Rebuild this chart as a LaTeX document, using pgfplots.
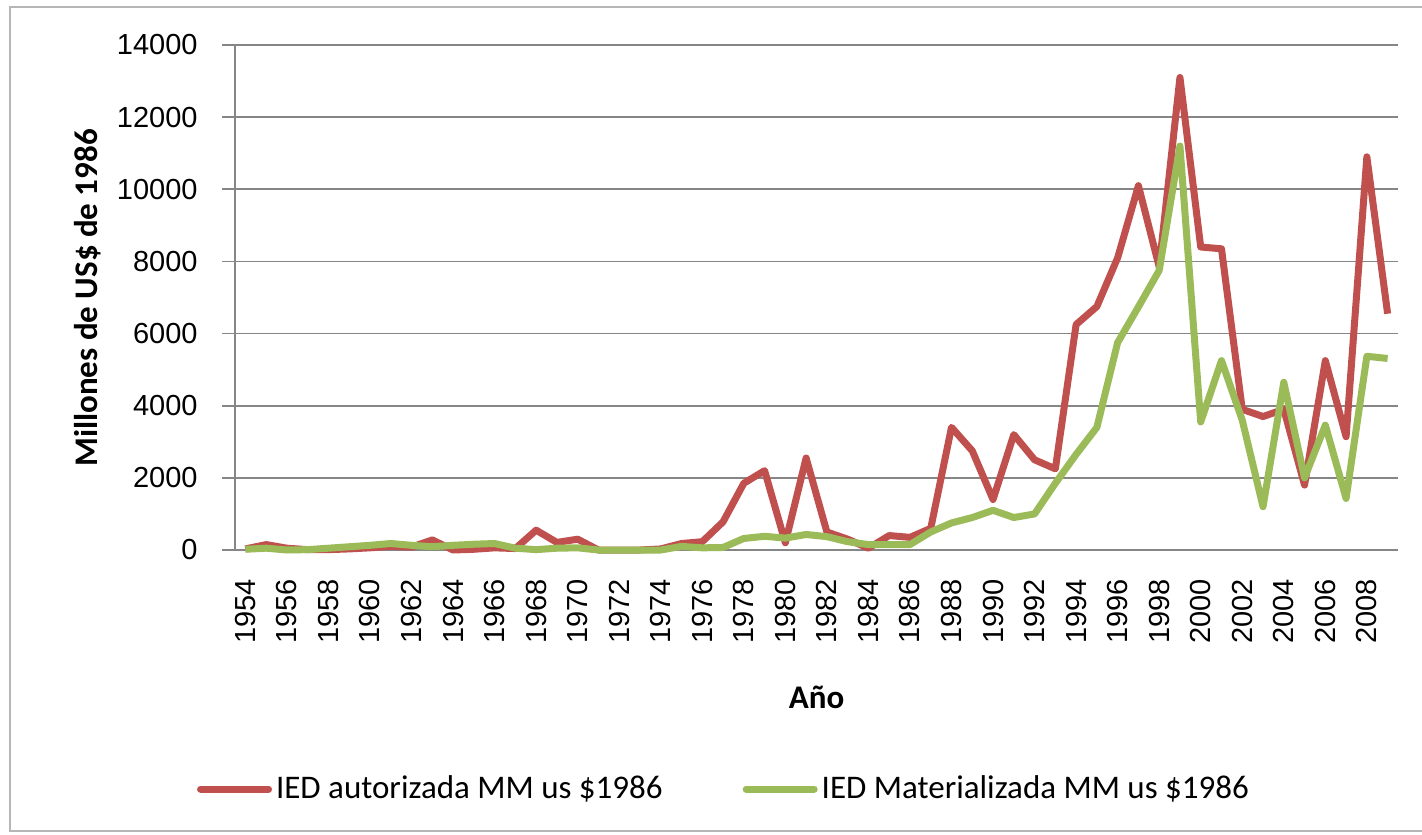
\documentclass[border=0pt]{standalone}
\usepackage{fontspec}
\setmainfont{Carlito}
\newfontfamily\ticksfont{Liberation Sans}
\usepackage{pgfplots}
\pgfplotsset{compat=1.18}
\definecolor{serA}{HTML}{C0504D}
\definecolor{serB}{HTML}{9BBB59}
\definecolor{gridc}{HTML}{868686}
\begin{document}
\begin{tikzpicture}
\useasboundingbox (-117.5pt,-142pt) rectangle (593.5pt,275pt);
\draw[gridc!60, line width=0.8pt] (-112.5pt,-140.5pt) rectangle (620pt,271.5pt);
\begin{axis}[
  at={(0,0)}, anchor=south west,
  scale only axis, width=581.5pt, height=252.5pt,
  xmin=1953.5, xmax=2009.5, ymin=0, ymax=14000,
  xtick={1954,1956,...,2008},
  ytick={0,2000,...,14000},
  scaled y ticks=false,
  /pgf/number format/.cd, use comma=false, set thousands separator={}, assume math mode=true, /pgfplots/.cd,
  axis lines*=left,
  axis line style={gridc, line width=0.8pt},
  ymajorgrids, grid style={gridc, line width=0.8pt},
  x tick style={draw=none},
  y tick style={gridc, line width=0.8pt},
  tick align=outside, major tick length=6.5pt,
  tick label style={font=\fontsize{14.5}{16}\selectfont\ticksfont},
  xticklabel style={rotate=90, anchor=east, inner sep=0pt},
  xticklabel shift=8pt,
  yticklabel style={anchor=east, inner sep=0pt},
  yticklabel shift=12pt,
  clip=false,
  legend columns=2,
  legend style={at={(0.4213,-0.4733)}, anchor=center, draw=none, fill=none,
    font=\fontsize{16.5}{18}\selectfont, /tikz/every even column/.append style={column sep=38pt},
    inner sep=0pt},
  legend image code/.code={\draw[#1, line cap=round] (0pt,0pt) -- (34pt,0pt);},
]
\addplot[serA, line width=3.5pt, line join=round] coordinates {
(1954,30)(1955,150)(1956,50)(1957,10)(1958,10)(1959,30)(1960,60)(1961,100)(1962,80)(1963,280)
(1964,0)(1965,20)(1966,60)(1967,40)(1968,550)(1969,210)(1970,300)(1971,0)(1972,0)(1973,0)
(1974,30)(1975,180)(1976,230)(1977,780)(1978,1850)(1979,2200)(1980,200)(1981,2550)(1982,500)(1983,300)
(1984,50)(1985,400)(1986,350)(1987,600)(1988,3400)(1989,2750)(1990,1400)(1991,3200)(1992,2500)(1993,2250)
(1994,6250)(1995,6750)(1996,8100)(1997,10100)(1998,7850)(1999,13100)(2000,8400)(2001,8350)(2002,3900)(2003,3700)
(2004,3900)(2005,1800)(2006,5250)(2007,3140)(2008,10900)(2009,6550)};
\addlegendentry{IED autorizada MM us \$1986}
\addplot[serB, line width=3.5pt, line join=round] coordinates {
(1954,20)(1955,50)(1956,0)(1957,10)(1958,50)(1959,90)(1960,130)(1961,180)(1962,130)(1963,90)
(1964,130)(1965,160)(1966,180)(1967,50)(1968,10)(1969,50)(1970,60)(1971,0)(1972,0)(1973,0)
(1974,0)(1975,100)(1976,60)(1977,70)(1978,320)(1979,380)(1980,330)(1981,430)(1982,370)(1983,230)
(1984,150)(1985,150)(1986,150)(1987,500)(1988,750)(1989,900)(1990,1100)(1991,900)(1992,1000)(1993,1850)
(1994,2650)(1995,3400)(1996,5750)(1997,6740)(1998,7750)(1999,11200)(2000,3550)(2001,5250)(2002,3600)(2003,1200)
(2004,4650)(2005,2000)(2006,3460)(2007,1430)(2008,5370)(2009,5310)};
\addlegendentry{IED Materializada MM us \$1986}
\end{axis}
\node[rotate=90, font=\fontsize{16.5}{18}\selectfont\bfseries] at (-73.5pt,126pt) {Millones de US\$ de 1986};
\node[font=\fontsize{16.5}{18}\selectfont\bfseries] at (290.75pt,-73.5pt) {Año};
\end{tikzpicture}
\end{document}
